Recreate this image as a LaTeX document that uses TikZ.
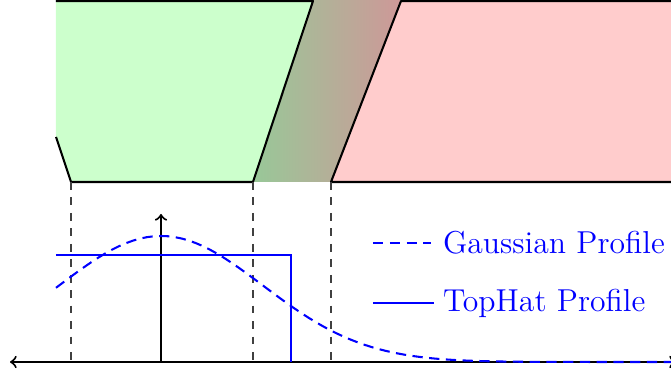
\documentclass[tikz,border=0pt]{standalone}
\usepackage{tikz}

\definecolor{shadegreen}{RGB}{152,200,152}
\definecolor{shadered}{RGB}{206,152,152}

\begin{document}
\begin{tikzpicture}[
  x=0.388pt, y=0.388pt,
  border/.style={draw,thick,line join=round},
  guide/.style={draw,black!75,dashed},
  axis/.style={draw,thick,<->},
  profile/.style={draw,blue,thick},
  gaussdash/.style={profile,dash pattern=on 4pt off 2.5pt},
  legendtext/.style={blue,anchor=west,font=\fontsize{12.3}{15}\selectfont}
]
  \useasboundingbox (0,0) rectangle (671,379);
  \clip (0,0) rectangle (671,379);

  % regions
  \fill[green!20] (56,379) -- (313,379) -- (253,197) -- (71,197) -- (56,242) -- cycle;
  \shade[left color=shadegreen,right color=shadered]
    (253,197) -- (313,379) -- (401,379) -- (331,197) -- cycle;
  \fill[red!20] (331,197) -- (401,379) -- (680,379) -- (680,197) -- cycle;
  \coordinate (gl) at (56,242);
  \coordinate (ga) at (71,197);
  \coordinate (gb) at (253,197);
  \coordinate (gt) at (313,378);
  \coordinate (gs) at (56,378);
  \coordinate (ra) at (331,197);
  \coordinate (rt) at (401,378);
  \coordinate (re) at (680,378);
  \coordinate (rb) at (680,197);
  \path[border] (gl) -- (ga) -- (gb) -- (gt) -- (gs);
  \path[border] (rb) -- (ra) -- (rt) -- (re);

  % guides
  \coordinate (da) at (71,17);
  \coordinate (db) at (253,17);
  \coordinate (dc) at (331,17);
  \path[guide] (ga) -- (da);
  \path[guide] (gb) -- (db);
  \path[guide] (ra) -- (dc);

  % axes
  \coordinate (o) at (161,17);
  \coordinate (xl) at (10,17);
  \coordinate (xr) at (676,17);
  \coordinate (yt) at (161,165);
  \path[axis] (xl) -- (xr);
  \path[draw,thick,->] (o) -- (yt);

  % profiles
  \coordinate (ha) at (56,124);
  \coordinate (hb) at (291,124);
  \coordinate (hc) at (291,17);
  \path[profile] (ha) -- (hb) -- (hc);
  \path[gaussdash] plot[domain=56:680,samples=90]
    (\x,{17+126*exp(-((\x-161)/102)^2/2)});

  % legend
  \node[legendtext] (gauss) at (434,136) {Gaussian Profile};
  \node[legendtext] (tophat) at (434,76) {TopHat Profile};
  \coordinate (lg) at (373,136);
  \coordinate (lt) at (373,76);
  \path[gaussdash] (lg) -- ([xshift=-1.2pt]gauss.west);
  \path[profile] (lt) -- (tophat.west);
\end{tikzpicture}
\end{document}
